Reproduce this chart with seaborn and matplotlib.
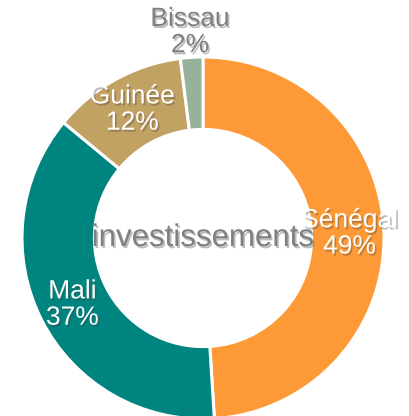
import numpy as np
import matplotlib.pyplot as plt
import matplotlib.patheffects as pe
import seaborn as sns

# données
pays = ["Sénégal", "Mali", "Guinée", "Bissau"]
parts = [49, 37, 12, 2]
couleurs = ["#FD9A37", "#00847F", "#C2A263", "#97B29A"]
couleurs_texte = ["white", "white", "white", "#7F7F7F"]
distances = [0.81, 0.81, 0.81, 1.14]

sns.set_theme(style="white")
plt.rcParams['font.family'] = ['Liberation Sans', 'DejaVu Sans']

fig = plt.figure(figsize=(4.09, 4.16), dpi=100)
ax = fig.add_axes([0, 0, 1, 1])

wedges, _ = ax.pie(parts, colors=couleurs, startangle=90, counterclock=False,
                   radius=1, wedgeprops=dict(width=0.4, edgecolor="white", linewidth=2.2))

ombre = [pe.withSimplePatchShadow(offset=(1.2, -1.5), shadow_rgbFace="#444444", alpha=0.35)]

for w, nom, p, c, d in zip(wedges, pays, parts, couleurs_texte, distances):
    ang = np.deg2rad((w.theta1 + w.theta2) / 2)
    ax.text(d * np.cos(ang), d * np.sin(ang), f"{nom}\n{p}%", ha="center", va="center",
            fontsize=19, color=c, linespacing=1.12, path_effects=ombre)

ax.text(0, 0, "investissements", ha="center", va="center", fontsize=22.5,
        color="#808080", path_effects=ombre)

ax.set_xlim(-203 / 181, 206 / 181)
ax.set_ylim(-178 / 181, 238 / 181)
ax.set_aspect("auto")
ax.axis("off")

plt.savefig("out.png", dpi=100)
